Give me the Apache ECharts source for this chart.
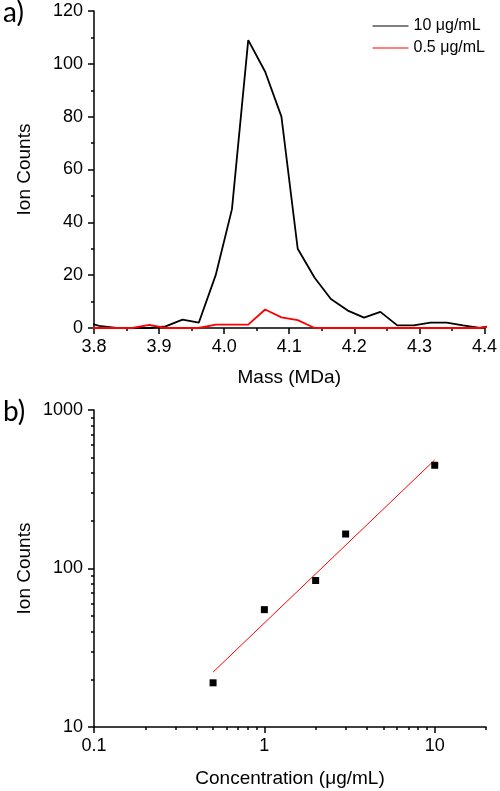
<!DOCTYPE html>
<html>
<head>
<meta charset="utf-8">
<script src="https://cdn.jsdelivr.net/npm/echarts@6/dist/echarts.min.js"></script>
<style>
html,body{margin:0;padding:0;background:#fff;}
#c{width:500px;height:791px;}
</style>
</head>
<body>
<div id="c"></div>
<script>
// Panel a: mass spectrum
const massA = [3.783, 3.808, 3.834, 3.859, 3.885, 3.910, 3.936, 3.961, 3.987, 4.012, 4.037, 4.063, 4.088, 4.113, 4.139, 4.164, 4.190, 4.215, 4.240, 4.266, 4.291, 4.317, 4.342, 4.367, 4.393, 4.418];
const counts10 = [2.5, 0.8, 0, 0, 0, 0.6, 3.2, 2, 20, 45, 109, 97, 80, 30, 19, 11, 6.6, 3.9, 6.1, 1, 1, 2, 2, 1, 0, 1.2];
const counts05 = [0, 0, 0, 0, 1.2, 0, 0, 0, 1.3, 1.3, 1.3, 7, 4, 3, 0, 0, 0, 0, 0, 0, 0, 0, 0, 0, 0, 1];
const seriesNamesA = ['10 \u03bcg/mL', '0.5 \u03bcg/mL'];

// Panel b: calibration (log-log)
const concB = [0.5, 1, 2, 3, 10];
const countsB = [19, 55, 84, 165, 448];
const fitX = [0.5, 10];
const fitY = [22.2, 484];

// Tick labels / positions
const majorTicksXB = [0.1, 1, 10];
const minorTicksXB = [0.2, 0.3, 0.4, 0.5, 0.6, 0.7, 0.8, 0.9, 2, 3, 4, 5, 6, 7, 8, 9, 20];
const majorTicksYB = [10, 100, 1000];
const minorTicksYB = [20, 30, 40, 50, 60, 70, 80, 90, 200, 300, 400, 500, 600, 700, 800, 900];

const FONT = 'Liberation Sans, Arial, sans-serif';
const axisLineStyle = {color: '#000', width: 1.5};
const labelStyle = {color: '#000', fontFamily: FONT, fontSize: 18};
const nameStyle = {color: '#000', fontFamily: FONT, fontSize: 19};
const plain = v => String(v);

const chart = echarts.init(document.getElementById('c'), null, {renderer: 'canvas'});

const option = {
  animation: false,
  backgroundColor: '#fff',
  title: [
    {text: 'a)', left: -2, top: -6, textStyle: {fontFamily: 'Lato', fontSize: 28, fontWeight: 'normal', color: '#000'}},
    {text: 'b)', left: -2, top: 393, textStyle: {fontFamily: 'Lato', fontSize: 28, fontWeight: 'normal', color: '#000'}}
  ],
  legend: {
    data: seriesNamesA,
    orient: 'vertical',
    right: 10,
    top: 13,
    itemWidth: 36,
    itemHeight: 14,
    itemGap: 6,
    textStyle: {color: '#000', fontFamily: FONT, fontSize: 16},
    icon: 'path://M0,0 L36,0 L36,1 L0,1 Z'
  },
  grid: [
    {left: 94, right: 14, top: 11, height: 317, containLabel: false},
    {left: 94, right: 14, top: 410, height: 317, containLabel: false}
  ],
  xAxis: [
    {
      gridIndex: 0, type: 'value', min: 3.8, max: 4.4, interval: 0.1,
      name: 'Mass (MDa)', nameLocation: 'middle', nameGap: 40, nameTextStyle: nameStyle, nameMoveOverlap: false,
      axisLine: {show: true, onZero: false, lineStyle: axisLineStyle},
      axisTick: {show: true, length: 6, lineStyle: {color: '#000', width: 1.5}},
      minorTick: {show: true, splitNumber: 2, length: 3, lineStyle: {color: '#000', width: 1.5}},
      axisLabel: Object.assign({margin: 10, formatter: v => v.toFixed(1)}, labelStyle),
      splitLine: {show: false}
    },
    {
      gridIndex: 1, type: 'log', logBase: 10, min: 0.1, max: 20, position: 'bottom',
      name: 'Concentration (\u03bcg/mL)', nameLocation: 'middle', nameGap: 42, nameTextStyle: nameStyle, nameMoveOverlap: false,
      axisLine: {show: true, onZero: false, lineStyle: axisLineStyle},
      axisTick: {show: true, length: 6, customValues: majorTicksXB, lineStyle: {color: '#000', width: 1.5}},
      axisLabel: Object.assign({margin: 10, customValues: majorTicksXB, formatter: plain}, labelStyle),
      splitLine: {show: false}
    },
    {
      gridIndex: 1, type: 'log', logBase: 10, min: 0.1, max: 20, position: 'bottom', offset: 0,
      axisLine: {show: false, onZero: false},
      axisTick: {show: true, length: 3, customValues: minorTicksXB, lineStyle: {color: '#000', width: 1.5}},
      axisLabel: {show: false},
      splitLine: {show: false}
    }
  ],
  yAxis: [
    {
      gridIndex: 0, type: 'value', min: 0, max: 120, interval: 20,
      name: 'Ion Counts', nameLocation: 'middle', nameGap: 60, nameTextStyle: nameStyle, nameMoveOverlap: false,
      axisLine: {show: true, onZero: false, lineStyle: axisLineStyle},
      axisTick: {show: true, length: 6, lineStyle: {color: '#000', width: 1.5}},
      minorTick: {show: true, splitNumber: 2, length: 3, lineStyle: {color: '#000', width: 1.5}},
      axisLabel: Object.assign({margin: 11}, labelStyle),
      splitLine: {show: false}
    },
    {
      gridIndex: 1, type: 'log', logBase: 10, min: 10, max: 1000, position: 'left',
      name: 'Ion Counts', nameLocation: 'middle', nameGap: 60, nameTextStyle: nameStyle, nameMoveOverlap: false,
      axisLine: {show: true, onZero: false, lineStyle: axisLineStyle},
      axisTick: {show: true, length: 6, customValues: majorTicksYB, lineStyle: {color: '#000', width: 1.5}},
      axisLabel: Object.assign({margin: 11, customValues: majorTicksYB, formatter: plain}, labelStyle),
      splitLine: {show: false}
    },
    {
      gridIndex: 1, type: 'log', logBase: 10, min: 10, max: 1000, position: 'left', offset: 0,
      axisLine: {show: false, onZero: false},
      axisTick: {show: true, length: 3, customValues: minorTicksYB, lineStyle: {color: '#000', width: 1.5}},
      axisLabel: {show: false},
      splitLine: {show: false}
    }
  ],
  series: [
    {
      name: seriesNamesA[0], type: 'line', xAxisIndex: 0, yAxisIndex: 0,
      data: massA.map((m, i) => [m, counts10[i]]),
      showSymbol: false, symbol: 'none', clip: true,
      lineStyle: {color: '#000', width: 1.8}, itemStyle: {color: '#000'}, z: 3
    },
    {
      name: seriesNamesA[1], type: 'line', xAxisIndex: 0, yAxisIndex: 0,
      data: massA.map((m, i) => [m, counts05[i]]),
      showSymbol: false, symbol: 'none', clip: true,
      lineStyle: {color: '#ff0000', width: 1.8}, itemStyle: {color: '#ff0000'}, z: 4
    },
    {
      name: 'fit', type: 'line', xAxisIndex: 1, yAxisIndex: 1,
      data: fitX.map((x, i) => [x, fitY[i]]),
      showSymbol: false, symbol: 'none',
      lineStyle: {color: '#ff0000', width: 1}, z: 3
    },
    {
      name: 'data', type: 'scatter', xAxisIndex: 1, yAxisIndex: 1,
      data: concB.map((x, i) => [x, countsB[i]]),
      symbol: 'rect', symbolSize: 7,
      itemStyle: {color: '#000', opacity: 1}, z: 4
    }
  ]
};
chart.setOption(option);
</script>
</body>
</html>
